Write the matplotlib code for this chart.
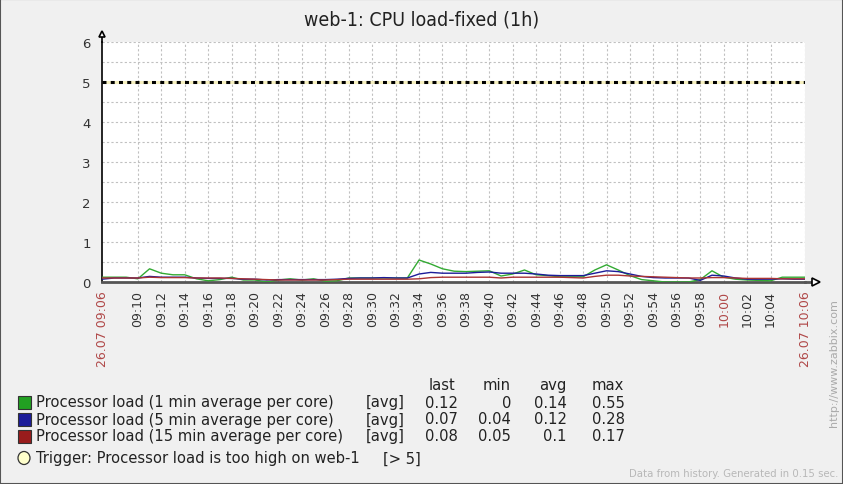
import matplotlib
matplotlib.use("Agg")
import matplotlib.pyplot as plt
from matplotlib.patches import Rectangle, Ellipse

# minutes after 09:00 (window 09:06:56 - 10:06:56)
minutes = [6.94] + list(range(8, 67)) + [66.94]

load_1min = [0.12, 0.12, 0.12, 0.08, 0.33, 0.22, 0.18, 0.18, 0.08, 0.03,
             0.06, 0.12, 0.05, 0.05, 0.0, 0.05, 0.08, 0.05, 0.08, 0.02,
             0.03, 0.10, 0.10, 0.10, 0.10, 0.10, 0.10, 0.55, 0.45, 0.33,
             0.27, 0.26, 0.27, 0.28, 0.15, 0.20, 0.30, 0.18, 0.16, 0.13,
             0.13, 0.13, 0.30, 0.43, 0.30, 0.16, 0.06, 0.03, 0.0, 0.0,
             0.0, 0.06, 0.28, 0.12, 0.07, 0.05, 0.04, 0.03, 0.12, 0.12,
             0.12]
load_5min = [0.07, 0.10, 0.10, 0.10, 0.14, 0.12, 0.12, 0.12, 0.10, 0.09,
             0.09, 0.09, 0.07, 0.07, 0.05, 0.06, 0.06, 0.06, 0.06, 0.06,
             0.07, 0.09, 0.10, 0.10, 0.11, 0.10, 0.10, 0.20, 0.24, 0.22,
             0.22, 0.22, 0.24, 0.25, 0.22, 0.22, 0.22, 0.20, 0.17, 0.16,
             0.16, 0.16, 0.22, 0.28, 0.26, 0.20, 0.14, 0.11, 0.10, 0.10,
             0.10, 0.04, 0.17, 0.15, 0.10, 0.07, 0.07, 0.07, 0.08, 0.07,
             0.07]
load_15min = [0.10, 0.10, 0.10, 0.10, 0.12, 0.11, 0.11, 0.11, 0.10, 0.10,
              0.10, 0.09, 0.08, 0.07, 0.06, 0.05, 0.05, 0.05, 0.05, 0.05,
              0.06, 0.07, 0.07, 0.07, 0.07, 0.07, 0.07, 0.08, 0.11, 0.12,
              0.12, 0.12, 0.12, 0.12, 0.10, 0.12, 0.12, 0.12, 0.12, 0.12,
              0.11, 0.10, 0.14, 0.17, 0.17, 0.15, 0.14, 0.13, 0.12, 0.11,
              0.10, 0.10, 0.11, 0.11, 0.10, 0.09, 0.09, 0.09, 0.08, 0.08,
              0.08]
trigger_level = 5

tick_pos = [6.94] + list(range(10, 66, 2)) + [66.94]
tick_labels = (["26.07 09:06"] + ["09:%02d" % m for m in range(10, 60, 2)]
               + ["10:00", "10:02", "10:04", "26.07 10:06"])
red_ticks = {"26.07 09:06", "10:00", "26.07 10:06"}

series_names = ["Processor load (1 min average per core)",
                "Processor load (5 min average per core)",
                "Processor load (15 min average per core)"]
stat_last = ["0.12", "0.07", "0.08"]
stat_min = ["0", "0.04", "0.05"]
stat_avg = ["0.14", "0.12", "0.1"]
stat_max = ["0.55", "0.28", "0.17"]
colors = ["#22a022", "#1c1c99", "#991c1c"]

W, H = 843, 485
def px(x):
    return x / W
def py(y):
    return 1 - y / H

cond = dict(family="DejaVu Sans", stretch="condensed")

fig = plt.figure(figsize=(W / 100, H / 100), dpi=100, facecolor="#f0f0f0")
fig.add_artist(Rectangle((0, 0), 1, 1, transform=fig.transFigure, fill=False,
                         edgecolor="#555555", linewidth=1.5))

ax = fig.add_axes([px(102), py(283), px(805) - px(102), py(43) - py(283)])
ax.set_facecolor("white")
ax.set_xlim(minutes[0], minutes[-1])
ax.set_ylim(0, 6)

# grid
grid_kw = dict(color="#c0c0c0", linestyle=(0, (2, 2)), linewidth=0.8, zorder=0)
for y in [0.5 * i for i in range(1, 13)]:
    ax.axhline(y, **grid_kw)
for x in tick_pos[1:]:
    ax.axvline(x, **grid_kw)

# trigger line
ax.axhline(trigger_level, color="#f6f0c0", linewidth=2.2, zorder=1)
ax.axhline(trigger_level, color="black", linewidth=2.2, linestyle=(0, (1.3, 1.4)), zorder=2)

ax.plot(minutes, load_1min, color="#33aa33", linewidth=1, zorder=3)
ax.plot(minutes, load_5min, color="#1c1c99", linewidth=1, zorder=4)
ax.plot(minutes, load_15min, color="#aa3333", linewidth=1, zorder=5)

for s in ["top", "right"]:
    ax.spines[s].set_visible(False)
ax.spines["left"].set_color("black")
ax.spines["left"].set_linewidth(1.2)
ax.spines["bottom"].set_color("#555555")
ax.spines["bottom"].set_linewidth(2)

# axis arrows
ax.plot([0, 0], [1, 1.03], transform=ax.transAxes, color="black", lw=1.2, clip_on=False)
ax.plot([0], [1.035], marker="^", markersize=5, mfc="white", mec="black", mew=1.2,
        transform=ax.transAxes, clip_on=False)
ax.plot([1, 1.012], [0, 0], transform=ax.transAxes, color="#555555", lw=2, clip_on=False)
ax.plot([1.016], [0], marker=">", markersize=5.5, mfc="white", mec="black", mew=1.2,
        transform=ax.transAxes, clip_on=False)

ax.set_yticks(range(0, 7))
ax.tick_params(axis="y", length=0, pad=8, labelsize=9.5, labelcolor="#333333")
ax.set_xticks(tick_pos)
ax.set_xticklabels(tick_labels, rotation=90, va="top", ha="center")
ax.tick_params(axis="x", length=0, pad=6, labelsize=9, labelcolor="#333333")
for lbl in ax.get_xticklabels():
    if lbl.get_text() in red_ticks:
        lbl.set_color("#b04848")

fig.text(0.5, py(20), "web-1: CPU load-fixed (1h)", ha="center", va="center",
         fontsize=14, color="#222222", **cond)

# legend table
txt_kw = dict(fontsize=11.8, color="#222222", va="center", **cond)
for hdr, xr in zip(["last", "min", "avg", "max"], [455, 511, 567, 624]):
    fig.text(px(xr), py(386), hdr, ha="right", **txt_kw)
rows_y = [403, 420, 437]
for i in range(3):
    y = rows_y[i]
    fig.add_artist(Rectangle((px(18), py(y + 6.5)), px(13), py(0) - py(13),
                             transform=fig.transFigure, facecolor=colors[i],
                             edgecolor="#333333", linewidth=0.8))
    fig.text(px(36), py(y), series_names[i], ha="left", **txt_kw)
    fig.text(px(366), py(y), "[avg]", ha="left", **txt_kw)
    fig.text(px(458), py(y), stat_last[i], ha="right", **txt_kw)
    fig.text(px(511), py(y), stat_min[i], ha="right", **txt_kw)
    fig.text(px(567), py(y), stat_avg[i], ha="right", **txt_kw)
    fig.text(px(625), py(y), stat_max[i], ha="right", **txt_kw)

fig.add_artist(Ellipse((px(24), py(459)), 12 / W, 13 / H, transform=fig.transFigure,
                       facecolor="#ffffcc", edgecolor="#333333", linewidth=0.9))
fig.text(px(36), py(459), "Trigger: Processor load is too high on web-1", ha="left", **txt_kw)
fig.text(px(383), py(459), "[> 5]", ha="left", **txt_kw)

fig.text(px(838), py(474), "Data from history. Generated in 0.15 sec.", ha="right",
         va="center", fontsize=8.1, color="#b8b8b8", **cond)
fig.text(px(834), py(363), "http://www.zabbix.com", rotation=90, ha="center",
         va="center", fontsize=8, color="#aaaaaa")

fig.savefig("out.png", dpi=100, facecolor=fig.get_facecolor())
